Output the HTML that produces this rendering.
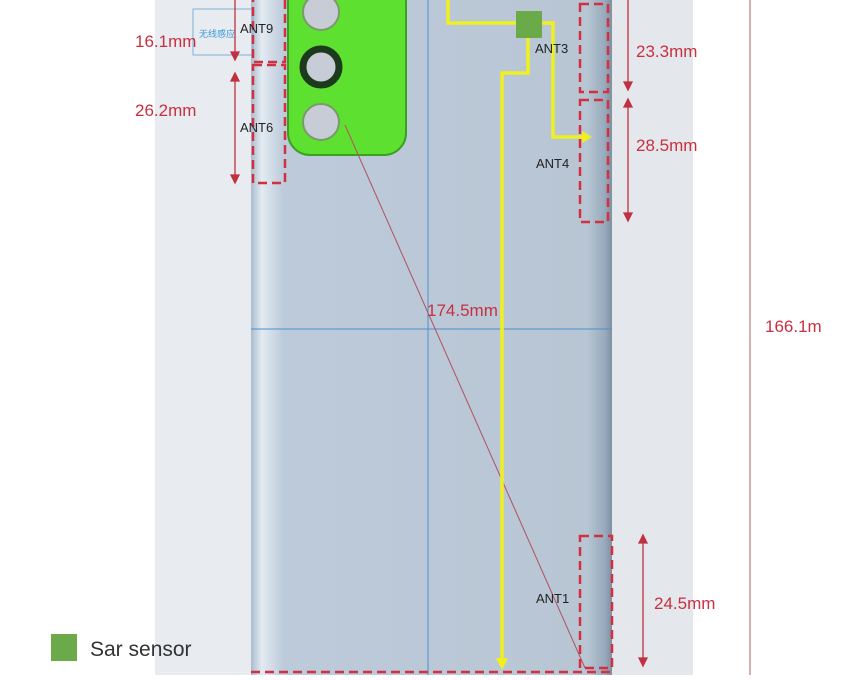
<!DOCTYPE html>
<html><head><style>
body{margin:0;width:842px;height:675px;overflow:hidden;background:#fff}
text{font-family:"Liberation Sans",sans-serif}
</style></head><body>
<svg width="842" height="675" viewBox="0 0 842 675" xmlns="http://www.w3.org/2000/svg">
<defs>
<linearGradient id="ph" x1="0" x2="1" y1="0" y2="0">
<stop offset="0" stop-color="#a9bccd"/><stop offset="0.03" stop-color="#e3ebf2"/><stop offset="0.09" stop-color="#bccada"/><stop offset="0.93" stop-color="#b8c6d4"/><stop offset="0.98" stop-color="#98aabb"/><stop offset="1" stop-color="#7d90a1"/>
</linearGradient>
</defs>
<rect x="155" y="0" width="538" height="675" fill="#e8ebef"/>
<rect x="612" y="0" width="81" height="675" fill="#e4e8ec"/>
<rect x="251" y="0" width="361" height="675" fill="url(#ph)"/>
<line x1="428" y1="0" x2="428" y2="675" stroke="#4a90c8" stroke-width="1"/>
<line x1="251" y1="329" x2="612" y2="329" stroke="#4a90c8" stroke-width="1"/>
<line x1="750" y1="0" x2="750" y2="675" stroke="#c99" stroke-width="1.5"/>
<rect x="288" y="-20" width="118" height="175" rx="22" fill="#5ee030" stroke="#3aa020" stroke-width="2"/>
<circle cx="321" cy="12" r="18" fill="#c7ccd6" stroke="#7a9a6a" stroke-width="2"/>
<circle cx="321" cy="67" r="18" fill="#c7ccd6" stroke="#1c3a1c" stroke-width="7"/>
<circle cx="321" cy="122" r="18" fill="#c7ccd6" stroke="#7a9a6a" stroke-width="2"/>
<line x1="345" y1="125" x2="585" y2="668" stroke="#b05060" stroke-width="1"/>
<rect x="193" y="9" width="60" height="46" fill="none" stroke="#7ab0d8" stroke-width="1"/>
<text x="199" y="37" font-size="9" fill="#3a9ad8">无线感应</text>
<g fill="none" stroke="#d03040" stroke-width="2.5" stroke-dasharray="9,5">
<rect x="253" y="-10" width="32" height="72"/>
<rect x="253" y="65" width="32" height="118"/>
<rect x="580" y="4" width="28" height="88"/>
<rect x="580" y="100" width="28" height="122"/>
<rect x="580" y="536" width="32" height="132"/>
<rect x="433" y="-10" width="175" height="8"/>
<rect x="251" y="672" width="360" height="10"/>
</g>
<g fill="none" stroke="#f0f020" stroke-width="3.5">
<polyline points="448,-5 448,23 553,23 553,137 585,137"/>
<polyline points="528,25 528,73 502,73 502,665"/>
</g>
<polygon points="496,658 508,658 502,670" fill="#f0f020"/>
<polygon points="582,131 592,137 582,143" fill="#f0f020"/>
<rect x="516" y="11" width="26" height="27" fill="#6aaa48"/>
<g font-size="13" fill="#222">
<text x="240" y="33">ANT9</text>
<text x="240" y="132">ANT6</text>
<text x="535" y="53">ANT3</text>
<text x="536" y="168">ANT4</text>
<text x="536" y="603">ANT1</text>
</g>
<g stroke="#c03040" stroke-width="1.3" fill="#c03040">
<line x1="235" y1="0" x2="235" y2="58"/><polygon points="231,52 239,52 235,60"/>
<line x1="235" y1="75" x2="235" y2="180"/><polygon points="231,81 239,81 235,73"/><polygon points="231,175 239,175 235,183"/>
<line x1="628" y1="0" x2="628" y2="88"/><polygon points="624,82 632,82 628,90"/>
<line x1="628" y1="100" x2="628" y2="220"/><polygon points="624,107 632,107 628,99"/><polygon points="624,213 632,213 628,221"/>
<line x1="643" y1="536" x2="643" y2="665"/><polygon points="639,543 647,543 643,535"/><polygon points="639,658 647,658 643,666"/>
</g>
<g font-size="17" fill="#c83040">
<text x="135" y="47">16.1mm</text>
<text x="135" y="116">26.2mm</text>
<text x="636" y="57">23.3mm</text>
<text x="636" y="151">28.5mm</text>
<text x="427" y="316">174.5mm</text>
<text x="765" y="332">166.1m</text>
<text x="654" y="609">24.5mm</text>
</g>
<rect x="51" y="634" width="26" height="27" fill="#6aaa48"/>
<text x="90" y="656" font-size="21" fill="#333">Sar sensor</text>
</svg>
</body></html>
